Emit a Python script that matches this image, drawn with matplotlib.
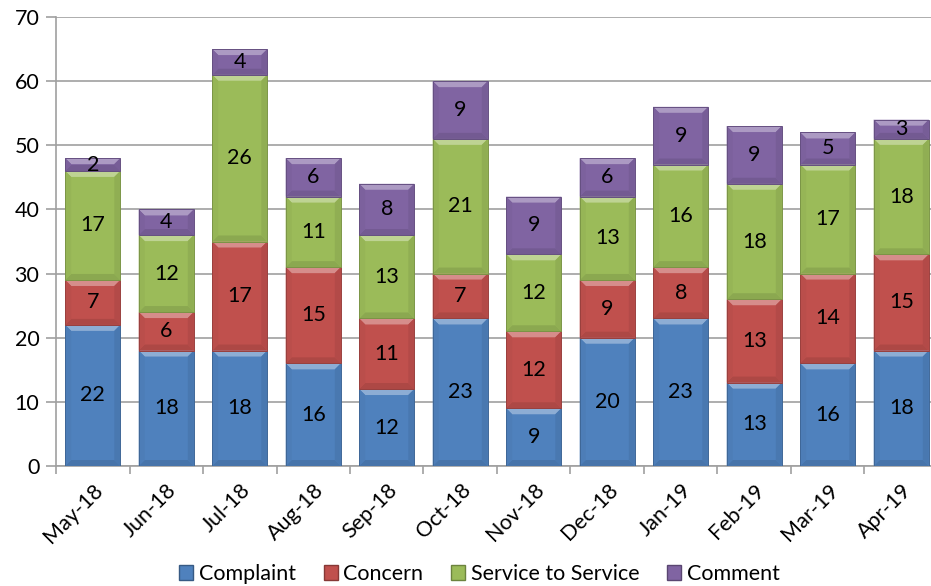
import matplotlib.pyplot as plt
import numpy as np
from matplotlib.patches import Polygon, Patch
from matplotlib.colors import to_rgb

plt.rcParams['font.family'] = ['Lato', 'DejaVu Sans']

months = ['May-18', 'Jun-18', 'Jul-18', 'Aug-18', 'Sep-18', 'Oct-18',
          'Nov-18', 'Dec-18', 'Jan-19', 'Feb-19', 'Mar-19', 'Apr-19']
complaint = [22, 18, 18, 16, 12, 23, 9, 20, 23, 13, 16, 18]
concern = [7, 6, 17, 15, 11, 7, 12, 9, 8, 13, 14, 15]
service = [17, 12, 26, 11, 13, 21, 12, 13, 16, 18, 17, 18]
comment = [2, 4, 4, 6, 8, 9, 9, 6, 9, 9, 5, 3]

series_names = ['Complaint', 'Concern', 'Service to Service', 'Comment']
series_colors = ['#4F81BD', '#C0504D', '#9BBB59', '#8064A2']


def shade(color, f):
    r, g, b = to_rgb(color)
    if f >= 0:
        return (r + (1 - r) * f, g + (1 - g) * f, b + (1 - b) * f)
    return (r * (1 + f), g * (1 + f), b * (1 + f))


fig = plt.figure(figsize=(9.31, 5.86), dpi=100)
ax = fig.add_axes([56 / 931, 1 - 466 / 586, 882 / 931, 449 / 586])

x = np.arange(len(months))
width = 0.75
ax.set_xlim(-0.5, len(months) - 0.5)
ax.set_ylim(0, 70)

# bevel size in data units (about 6 px each way)
bw = ax.get_position().width * fig.get_figwidth() * fig.dpi
bh = ax.get_position().height * fig.get_figheight() * fig.dpi
dx = 6 * len(months) / bw
dy = 6 * 70 / bh

bottom = np.zeros(len(months))
for vals, name, col in zip([complaint, concern, service, comment], series_names, series_colors):
    bars = ax.bar(x, vals, width, bottom=bottom, color=col,
                  edgecolor='none', linewidth=0, zorder=3)
    for rect, v in zip(bars, vals):
        x0, y0 = rect.get_x(), rect.get_y()
        w, h = rect.get_width(), rect.get_height()
        x1, y1 = x0 + w, y0 + h
        e = min(dy, h / 2)
        # top highlight
        ax.add_patch(Polygon([(x0, y1), (x1, y1), (x1 - dx, y1 - e), (x0 + dx, y1 - e)],
                             closed=True, facecolor=shade(col, 0.35), edgecolor='none', zorder=4))
        # bottom shadow
        ax.add_patch(Polygon([(x0, y0), (x1, y0), (x1 - dx, y0 + e), (x0 + dx, y0 + e)],
                             closed=True, facecolor=shade(col, -0.1), edgecolor='none', zorder=4))
        # side shading
        ax.add_patch(Polygon([(x0, y0), (x0 + dx, y0 + e), (x0 + dx, y1 - e), (x0, y1)],
                             closed=True, facecolor=shade(col, -0.03), edgecolor='none', zorder=4))
        ax.add_patch(Polygon([(x1, y0), (x1 - dx, y0 + e), (x1 - dx, y1 - e), (x1, y1)],
                             closed=True, facecolor=shade(col, -0.07), edgecolor='none', zorder=4))
        ax.add_patch(Polygon([(x0, y0), (x1, y0), (x1, y1), (x0, y1)], closed=True,
                             facecolor='none', edgecolor=shade(col, -0.2), linewidth=0.7, zorder=5))
        ax.text(rect.get_x() + w / 2, y0 + h / 2, str(v), ha='center', va='center',
                fontsize=15.5, color='black', zorder=6)
    bottom += np.array(vals)

ax.set_yticks(range(0, 71, 10))
ax.yaxis.grid(True, color='#A0A0A0', linewidth=1.2, zorder=0)
ax.set_axisbelow(True)
ax.set_xticks(x)
ax.set_xticklabels(months, rotation=45, ha='right', rotation_mode='anchor', fontsize=15.5)
ax.set_xticks(np.arange(-0.5, len(months), 1), minor=True)
ax.tick_params(axis='x', which='major', length=0, pad=10)
ax.tick_params(axis='x', which='minor', length=6, color='#A0A0A0', width=1.2)
ax.tick_params(axis='y', length=7, color='#A0A0A0', width=1.2, labelsize=15.5, pad=5)
for s in ['top', 'right']:
    ax.spines[s].set_visible(False)
for s in ['left', 'bottom']:
    ax.spines[s].set_color('#A0A0A0')
    ax.spines[s].set_linewidth(1.2)

handles = [Patch(facecolor=c, edgecolor=shade(c, -0.3), label=n)
           for n, c in zip(series_names, series_colors)]
fig.legend(handles=handles, loc='lower center', bbox_to_anchor=(0.515, -0.03), ncol=4,
           frameon=False, fontsize=15.5, handlelength=0.65, handleheight=0.65,
           handletextpad=0.25, columnspacing=1.3)

fig.savefig('out.png', dpi=100)
